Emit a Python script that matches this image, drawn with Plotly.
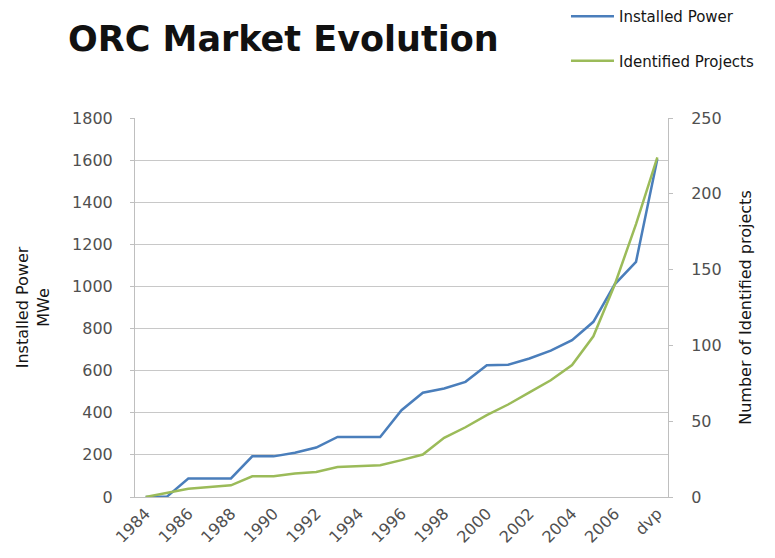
import plotly.graph_objects as go

years = ["1984", "1985", "1986", "1987", "1988", "1989", "1990", "1991", "1992",
         "1993", "1994", "1995", "1996", "1997", "1998", "1999", "2000", "2001",
         "2002", "2003", "2004", "2005", "2006", "2007", "dvp"]
installed_power = [0, 2, 88, 88, 88, 193, 193, 210, 235, 285, 285, 285, 412, 495,
                   515, 547, 626, 628, 658, 695, 745, 832, 1010, 1117, 1605]
identified_projects = [0, 3, 5.5, 6.6, 7.7, 13.7, 13.7, 15.5, 16.5, 19.8, 20.5, 21,
                       24.3, 28, 39, 46, 54, 61, 69, 77, 87, 106, 140, 180, 224]
shown_ticks = years[::2]

BLUE = "#4a7ebb"
GREEN = "#9bbb59"
FONT = "DejaVu Sans"
TXT = "#505050"
DARK = "#151515"

fig = go.Figure()
fig.add_trace(go.Scatter(x=years, y=installed_power, name="Installed Power",
                         mode="lines", line=dict(color=BLUE, width=2.5),
                         legendgroup="a", yaxis="y"))
fig.add_trace(go.Scatter(x=years, y=identified_projects, name="Identified Projects",
                         mode="lines", line=dict(color=GREEN, width=2.5),
                         legendgroup="b", yaxis="y2"))

fig.update_layout(
    width=775, height=558,
    margin=dict(l=135, r=107, t=118, b=61),
    paper_bgcolor="white", plot_bgcolor="white",
    font=dict(family=FONT, color=TXT, size=16),
    title=dict(text="<b>ORC Market Evolution</b>", x=68 / 775, xanchor="left",
               y=1 - 39 / 558, yanchor="middle",
               font=dict(family=FONT, size=35, color="#111111")),
    legend=dict(x=0.8086, xanchor="left", yref="container", y=1.0, yanchor="top",
                font=dict(family=FONT, size=15, color=DARK),
                itemwidth=43, tracegroupgap=22, bgcolor="rgba(0,0,0,0)"),
    xaxis=dict(type="category", range=[-0.5, len(years) - 0.5],
               tickmode="array", tickvals=shown_ticks,
               ticktext=shown_ticks, tickangle=-45, showgrid=False,
               showline=True, linecolor="#bfbfbf", linewidth=1,
               ticks="", tickfont=dict(size=16, color=TXT)),
    yaxis=dict(range=[0, 1800], dtick=200, showgrid=True, gridcolor="#c8c8c8",
               gridwidth=1, showline=True, linecolor="#bfbfbf", ticks="outside",
               ticklen=4, tickcolor="#bfbfbf", zeroline=False,
               ticklabelstandoff=14,
               tickfont=dict(size=16, color=TXT),
               title=dict(text="Installed Power<br>MWe", standoff=18,
                          font=dict(size=16, color=DARK))),
    yaxis2=dict(range=[0, 250], dtick=50, overlaying="y", side="right",
                showgrid=False, showline=True, linecolor="#bfbfbf",
                ticks="outside", ticklen=4, tickcolor="#bfbfbf", zeroline=False,
                ticklabelstandoff=15,
                tickfont=dict(size=16, color=TXT),
                title=dict(text="Number of Identified projects", standoff=19,
                           font=dict(size=16, color=DARK))),
)

fig.write_html("out.html", config={"displayModeBar": False},
               post_script="document.body.style.margin='0';document.body.style.overflow='hidden';")
